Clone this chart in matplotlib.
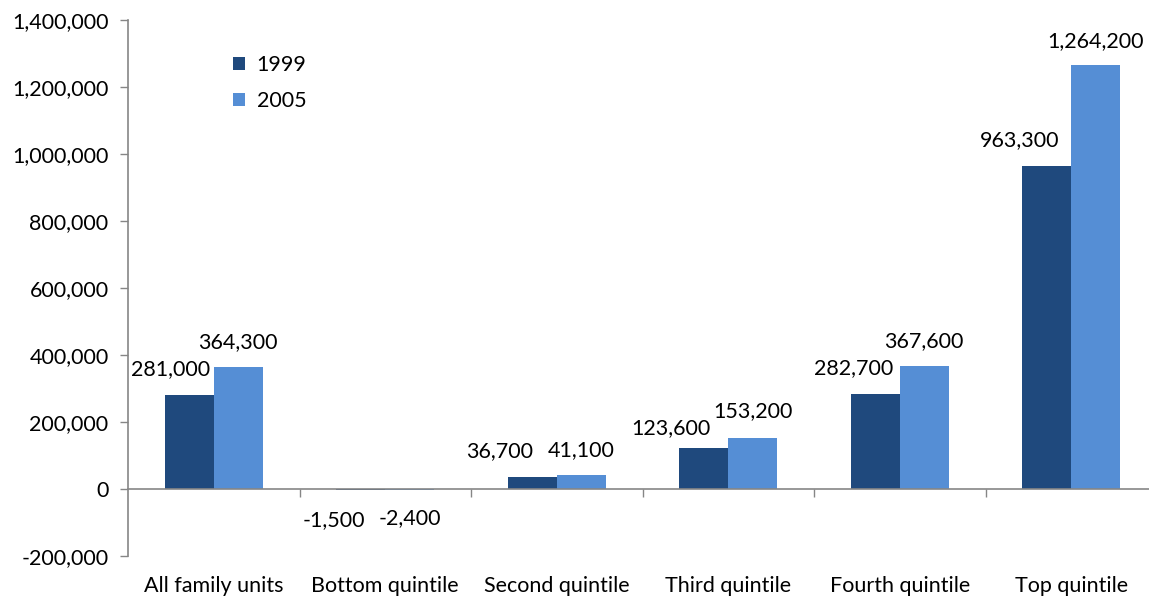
import matplotlib
matplotlib.use("Agg")
import matplotlib.pyplot as plt
import matplotlib.transforms as mtransforms
from matplotlib.ticker import FuncFormatter, FixedLocator
import numpy as np

categories = ["All family units", "Bottom quintile", "Second quintile",
              "Third quintile", "Fourth quintile", "Top quintile"]
series_names = ["1999", "2005"]
values_1999 = [281000, -1500, 36700, 123600, 282700, 963300]
values_2005 = [364300, -2400, 41100, 153200, 367600, 1264200]

# label offsets (pixels) from each bar's end, as laid out to avoid overlap
offsets_1999 = [(-19, 26), (-27, -31), (-33, 26), (-33, 20), (-22, 26), (-27, 26)]
offsets_2005 = [(0, 25), (0, -28), (0, 25), (0, 27), (0, 25), (0, 24)]

dark = "#1F497D"
light = "#558ED5"
axis_grey = "#868686"

plt.rcParams["font.family"] = ["Lato", "DejaVu Sans"]
fs = 15.5

fig = plt.figure(figsize=(11.49, 5.99), dpi=100)
W, H = 1149, 599
ax = fig.add_axes([128 / W, (H - 556) / H, (1157 - 128) / W, (556 - 20) / H])

x = np.arange(len(categories))
bw = 0.2857
b1 = ax.bar(x - bw / 2, values_1999, bw, color=dark, label=series_names[0], zorder=2)
b2 = ax.bar(x + bw / 2, values_2005, bw, color=light, label=series_names[1], zorder=2)

for bars, vals, offs in ((b1, values_1999, offsets_1999), (b2, values_2005, offsets_2005)):
    for rect, v, (dx, dy) in zip(bars, vals, offs):
        cx = rect.get_x() + rect.get_width() / 2
        ax.annotate(f"{v:,}", xy=(cx, v), xytext=(dx, dy), textcoords="offset pixels",
                    ha="center", va="center", fontsize=fs, color="black")

ax.set_xlim(-0.5, len(categories) - 0.5)
ax.set_ylim(-200000, 1400000)
ax.set_yticks(np.arange(-200000, 1400001, 200000))
ax.yaxis.set_major_formatter(FuncFormatter(lambda v, p: f"{int(v):,}"))
ax.tick_params(axis="y", direction="out", length=6, width=1, color=axis_grey,
               labelsize=fs, pad=8)

# zero line carrying the category boundary ticks
for s in ("top", "right"):
    ax.spines[s].set_visible(False)
ax.spines["left"].set_color(axis_grey)
ax.spines["left"].set_linewidth(1.2)
ax.spines["bottom"].set_position(("data", 0))
ax.spines["bottom"].set_color(axis_grey)
ax.spines["bottom"].set_linewidth(1.2)
ax.spines["bottom"].set_zorder(3)
ax.xaxis.set_major_locator(FixedLocator(np.arange(0.5, len(categories), 1.0)))
ax.tick_params(axis="x", direction="out", length=6, width=1, color=axis_grey,
               labelbottom=False)

# category names sit below the plot area
trans = mtransforms.blended_transform_factory(ax.transData, ax.transAxes)
for xi, name in zip(x, categories):
    ax.text(xi, -0.056, name, transform=trans, ha="center", va="center", fontsize=fs)

ax.legend(loc="upper left", bbox_to_anchor=(0.102, 0.934), frameon=False, fontsize=fs,
          handlelength=0.55, handleheight=0.55, handletextpad=0.55, labelspacing=0.72,
          borderpad=0, borderaxespad=0)

fig.savefig("out.png", dpi=100)
